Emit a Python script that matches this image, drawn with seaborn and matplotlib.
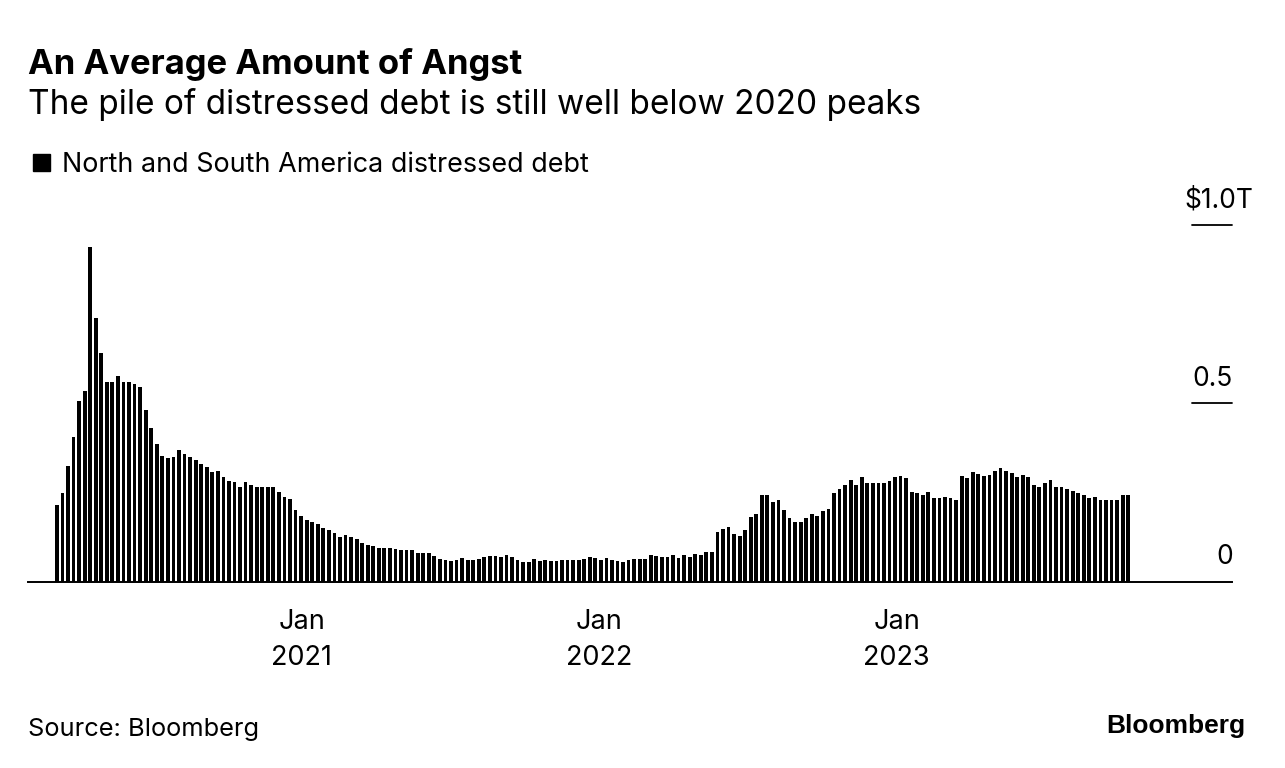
import numpy as np
import pandas as pd
import matplotlib
matplotlib.use("Agg")
import matplotlib.pyplot as plt
import matplotlib.transforms as mtransforms
import seaborn as sns

# ---- data (trillions of USD, weekly readings) ----
debt_values = [
    0.215, 0.248, 0.323, 0.405, 0.507, 0.535, 0.939, 0.739, 0.641, 0.561,
    0.561, 0.577, 0.561, 0.559, 0.554, 0.545, 0.480, 0.430, 0.386, 0.351,
    0.346, 0.349, 0.369, 0.357, 0.349, 0.341, 0.329, 0.320, 0.307, 0.310,
    0.293, 0.283, 0.279, 0.266, 0.279, 0.271, 0.266, 0.266, 0.264, 0.265,
    0.252, 0.236, 0.231, 0.200, 0.184, 0.173, 0.167, 0.162, 0.149, 0.145,
    0.135, 0.126, 0.130, 0.126, 0.118, 0.109, 0.103, 0.100, 0.094, 0.093,
    0.093, 0.091, 0.088, 0.088, 0.088, 0.081, 0.081, 0.079, 0.072, 0.063,
    0.060, 0.058, 0.060, 0.065, 0.061, 0.061, 0.064, 0.070, 0.072, 0.072,
    0.070, 0.074, 0.069, 0.060, 0.056, 0.056, 0.063, 0.058, 0.061, 0.058,
    0.058, 0.059, 0.061, 0.061, 0.059, 0.062, 0.068, 0.065, 0.059, 0.065,
    0.060, 0.058, 0.055, 0.060, 0.064, 0.064, 0.064, 0.073, 0.072, 0.068,
    0.068, 0.073, 0.065, 0.073, 0.070, 0.077, 0.073, 0.084, 0.082, 0.139,
    0.146, 0.154, 0.132, 0.127, 0.145, 0.180, 0.189, 0.243, 0.244, 0.222,
    0.229, 0.200, 0.177, 0.168, 0.168, 0.177, 0.188, 0.185, 0.197, 0.204,
    0.248, 0.259, 0.272, 0.284, 0.272, 0.292, 0.275, 0.276, 0.276, 0.276,
    0.281, 0.294, 0.297, 0.289, 0.252, 0.248, 0.242, 0.250, 0.233, 0.233,
    0.236, 0.234, 0.229, 0.296, 0.289, 0.306, 0.301, 0.296, 0.298, 0.310,
    0.317, 0.311, 0.304, 0.294, 0.298, 0.294, 0.271, 0.265, 0.275, 0.284,
    0.264, 0.265, 0.260, 0.255, 0.249, 0.243, 0.235, 0.237, 0.229, 0.230,
    0.228, 0.229, 0.243, 0.244,
]
week_index = list(range(len(debt_values)))

x_tick_positions = [44.1, 97.7, 151.3]
x_tick_labels = ["Jan\n2021", "Jan\n2022", "Jan\n2023"]

y_tick_values = [0.0, 0.5, 1.0]
y_tick_labels = ["0", "0.5", "$1.0T"]

title = "An Average Amount of Angst"
subtitle = "The pile of distressed debt is still well below 2020 peaks"
legend_label = "North and South America distressed debt"
source = "Source: Bloomberg"
brand = "Bloomberg"

# ---- styling ----
sns.set_style("white")
plt.rcParams["font.family"] = ["Inter", "DejaVu Sans"]

W, H = 1285, 768
fig = plt.figure(figsize=(W / 100, H / 100), dpi=100)
fig.patch.set_facecolor("white")

ax_left, ax_right, ax_bottom, ax_top = 28, 1232, 581.5, 225
ax = fig.add_axes([ax_left / W, 1 - ax_bottom / H,
                   (ax_right - ax_left) / W, (ax_bottom - ax_top) / H])

df = pd.DataFrame({"week": week_index, "debt": debt_values})
sns.barplot(data=df, x="week", y="debt", color="black", saturation=1,
            width=0.68, linewidth=0, ax=ax, native_scale=True)

ax.set_xlim(-5.2, 211.7)
ax.set_ylim(0, 1.0)
ax.set_xlabel("")
ax.set_ylabel("")
for s in ["left", "right", "top"]:
    ax.spines[s].set_visible(False)
ax.spines["bottom"].set_color("black")
ax.spines["bottom"].set_linewidth(1.4)

ax.set_xticks(x_tick_positions)
ax.set_xticklabels(x_tick_labels, fontsize=19.5, linespacing=1.5)
ax.tick_params(axis="x", direction="out", length=5, width=1.2, color="black",
               pad=15, labelcolor="black")
ax.set_yticks([])

# right-side value labels with short rules
trans = mtransforms.blended_transform_factory(ax.transAxes, ax.transData)
rule_start = (1192 - ax_left) / (ax_right - ax_left)
for val, lab in zip(y_tick_values, y_tick_labels):
    if val > 0:
        ax.plot([rule_start, 1.0], [val, val], color="black", lw=1.3,
                transform=trans, clip_on=False)
    ax.annotate(lab, xy=(1.0, val), xycoords=trans,
                xytext=(1 if lab != "$1.0T" else 21, 17), textcoords="offset pixels",
                ha="right", va="baseline", fontsize=19, color="black")

# titles and legend
fig.text(28 / W, 1 - 74 / H, title, fontsize=24.9, fontweight="bold",
         ha="left", va="baseline", color="black")
fig.text(28 / W, 1 - 114 / H, subtitle, fontsize=24,
         ha="left", va="baseline", color="black")
fig.patches.append(plt.Rectangle((33 / W, 1 - 171 / H), 17 / W, 17 / H,
                                 transform=fig.transFigure, color="black"))
fig.text(62 / W, 1 - 172 / H, legend_label, fontsize=19.4,
         ha="left", va="baseline", color="black")

fig.text(28 / W, 1 - 736 / H, source, fontsize=18.3,
         ha="left", va="baseline", color="black")
fig.text(1245 / W, 1 - 733 / H, brand, fontsize=19, fontweight="bold",
         ha="right", va="baseline", color="black",
         family=["Liberation Sans", "DejaVu Sans"])

fig.savefig("out.png", dpi=100, facecolor="white")
